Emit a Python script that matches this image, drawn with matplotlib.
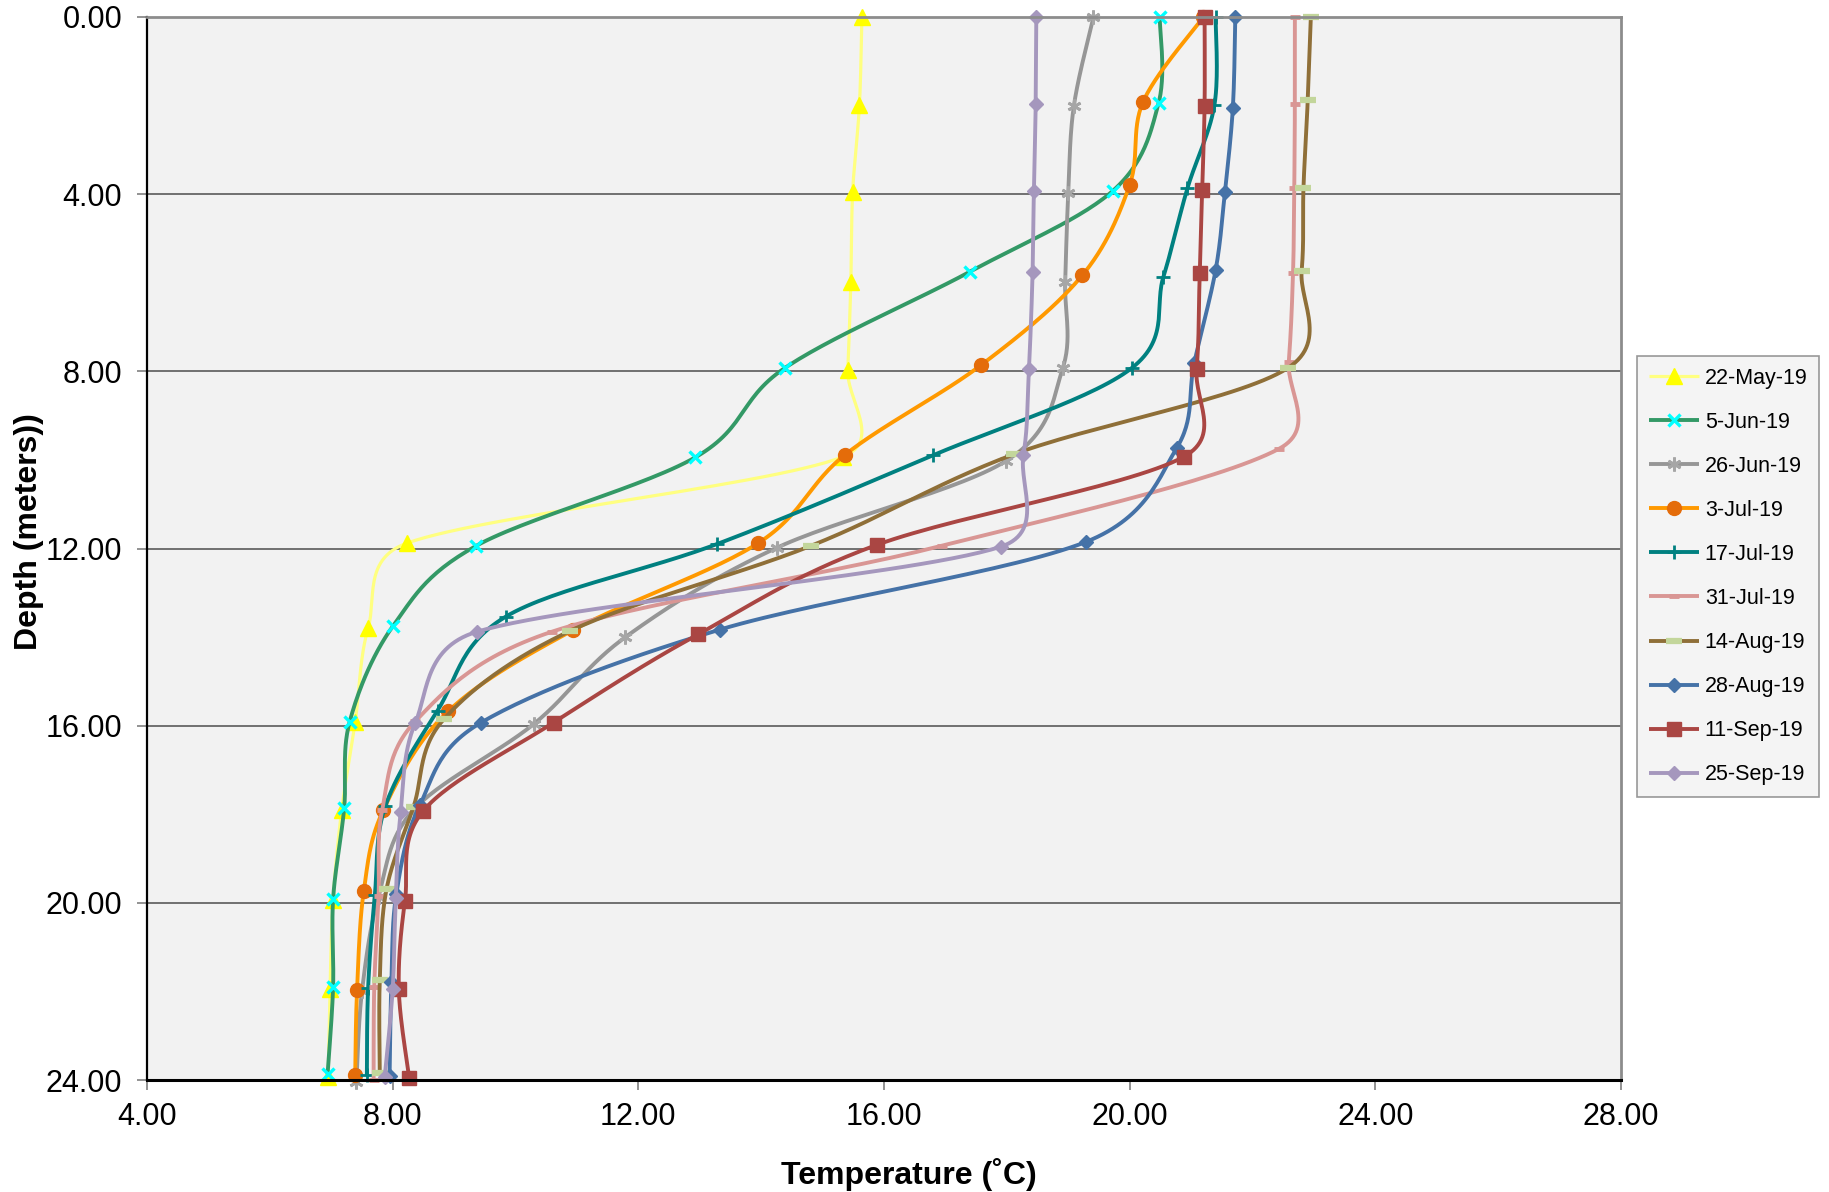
import numpy as np
import matplotlib
matplotlib.use("Agg")
import matplotlib.pyplot as plt

plt.rcParams['font.family'] = ['Liberation Sans', 'DejaVu Sans']

# dates of the profiles
labels = ['22-May-19', '5-Jun-19', '26-Jun-19', '3-Jul-19', '17-Jul-19',
          '31-Jul-19', '14-Aug-19', '28-Aug-19', '11-Sep-19', '25-Sep-19']

# depth (m) and temperature (C) per profile
d_may22 = [0, 1.99, 3.94, 5.98, 7.97, 9.93, 11.88, 13.80, 15.91, 17.90, 19.94, 21.95, 23.93]
t_may22 = [15.64, 15.60, 15.49, 15.46, 15.41, 15.33, 8.23, 7.60, 7.39, 7.17, 7.03, 6.98, 6.95]

d_jun05 = [0, 1.95, 3.92, 5.75, 7.93, 9.94, 11.94, 13.74, 15.91, 17.87, 19.92, 21.90, 23.87]
t_jun05 = [20.49, 20.47, 19.73, 17.40, 14.38, 12.93, 9.36, 8.01, 7.30, 7.21, 7.03, 7.03, 6.94]

d_jun26 = [0, 2.02, 3.98, 5.98, 7.93, 10.02, 11.98, 14.00, 15.96, 17.90, 19.86, 22.00, 24.04]
t_jun26 = [19.41, 19.09, 19.00, 18.95, 18.91, 17.99, 14.26, 11.79, 10.30, 8.34, 7.77, 7.50, 7.41]

d_jul03 = [0, 1.91, 3.79, 5.83, 7.86, 9.89, 11.88, 13.84, 15.68, 17.90, 19.73, 21.97, 23.89]
t_jul03 = [21.20, 20.22, 20.00, 19.23, 17.58, 15.36, 13.95, 10.94, 8.90, 7.85, 7.53, 7.42, 7.39]

d_jul17 = [0, 1.99, 3.87, 5.86, 7.93, 9.90, 11.90, 13.54, 15.66, 17.82, 19.82, 21.93, 23.89]
t_jul17 = [21.40, 21.38, 20.94, 20.55, 20.03, 16.79, 13.28, 9.84, 8.73, 7.88, 7.71, 7.60, 7.58]

d_jul31 = [0, 1.96, 3.87, 5.77, 7.78, 9.75, 11.94, 13.88, 15.90, 17.90, 19.85, 21.90, 24.00]
t_jul31 = [22.69, 22.69, 22.68, 22.66, 22.59, 22.43, 16.94, 10.59, 8.37, 7.83, 7.77, 7.70, 7.69]

d_aug14 = [0, 1.87, 3.85, 5.73, 7.93, 9.87, 11.94, 13.86, 15.86, 17.83, 19.69, 21.74, 23.84]
t_aug14 = [22.95, 22.90, 22.83, 22.80, 22.57, 18.12, 14.81, 10.89, 8.83, 8.34, 7.90, 7.79, 7.79]

d_aug28 = [0, 2.05, 3.96, 5.71, 7.82, 9.72, 11.85, 13.83, 15.93, 17.80, 19.80, 21.78, 23.90]
t_aug28 = [21.72, 21.68, 21.55, 21.40, 21.05, 20.77, 19.29, 13.33, 9.44, 8.44, 8.06, 7.98, 7.95]

d_sep11 = [0, 2.00, 3.91, 5.77, 7.95, 9.93, 11.92, 13.94, 15.93, 17.92, 19.96, 21.95, 23.96]
t_sep11 = [21.22, 21.22, 21.18, 21.14, 21.09, 20.88, 15.88, 12.97, 10.62, 8.50, 8.20, 8.10, 8.27]

d_sep25 = [0, 1.97, 3.93, 5.75, 7.95, 9.89, 11.96, 13.88, 15.93, 17.94, 19.90, 21.95, 23.94]
t_sep25 = [18.48, 18.47, 18.44, 18.42, 18.36, 18.27, 17.90, 9.37, 8.37, 8.13, 8.05, 8.00, 7.87]

depths = [d_may22, d_jun05, d_jun26, d_jul03, d_jul17, d_jul31, d_aug14, d_aug28, d_sep11, d_sep25]
temps = [t_may22, t_jun05, t_jun26, t_jul03, t_jul17, t_jul31, t_aug14, t_aug28, t_sep11, t_sep25]

# line colour, marker, marker colour, marker size, marker edge width, line width
styles = [
    ('#ffff80', '^', '#ffff00', 11, 1, 2.3),
    ('#339966', 'x', '#00ffff', 9, 2.4, 2.8),
    ('#969696', (6, 2, 0), '#a6a6a6', 10, 2, 2.8),
    ('#ff9900', 'o', '#e46c0a', 10, 1, 2.8),
    ('#008080', '+', '#008080', 10, 2, 2.8),
    ('#d99694', '_', '#d99694', 7, 3.5, 2.8),
    ('#8f6f38', '_', '#c3d69b', 11, 4.5, 2.8),
    ('#4572a7', 'D', '#4572a7', 7.5, 1, 2.8),
    ('#aa4643', 's', '#aa4643', 10.5, 1, 2.8),
    ('#a597bd', 'D', '#a597bd', 7.5, 1, 2.8),
]

NSEG = 30


def smooth(px):
    # excel-like smoothed line: bezier segments, tangents capped at half the segment
    p = np.asarray(px, float)
    pe = np.vstack([p[0], p, p[-1]])
    t = np.linspace(0, 1, NSEG + 1)[:-1, None]
    out = []
    for i in range(len(p) - 1):
        p0, p1, p2, p3 = pe[i], pe[i + 1], pe[i + 2], pe[i + 3]
        seg = np.hypot(*(p2 - p1))
        v1 = (p2 - p0) / 6
        v2 = (p3 - p1) / 6
        for v in (v1, v2):
            n = np.hypot(*v)
            if n > seg / 2 and n > 0:
                v *= (seg / 2) / n
        b1 = p1 + v1
        b2 = p2 - v2
        out.append((1 - t) ** 3 * p1 + 3 * (1 - t) ** 2 * t * b1
                   + 3 * (1 - t) * t ** 2 * b2 + t ** 3 * p2)
    out.append(p[-1:])
    return np.vstack(out)


fig = plt.figure(figsize=(18.29, 11.92), dpi=100)
ax = fig.add_axes([147 / 1829, 1 - 1080 / 1192, 1474 / 1829, 1063 / 1192])
ax.set_facecolor('#f2f2f2')
ax.set_xlim(4, 28)
ax.set_ylim(24, 0)

tr = ax.transData
for lab, d, t, st in zip(labels, depths, temps, styles):
    lc, mk, mc, ms, mew, lw = st
    pix = tr.transform(np.column_stack([t, d]))
    sm = tr.inverted().transform(smooth(pix))
    ax.plot(sm[:, 0], sm[:, 1], color=lc, lw=lw, marker=mk,
            markevery=[i * NSEG for i in range(len(d))],
            markersize=ms, markerfacecolor=mc, markeredgecolor=mc, markeredgewidth=mew,
            label=lab, clip_on=False, solid_capstyle='butt')

ax.set_xticks(np.arange(4, 28.1, 4))
ax.set_yticks(np.arange(0, 24.1, 4))
ax.xaxis.set_major_formatter(matplotlib.ticker.FormatStrFormatter('%.2f'))
ax.yaxis.set_major_formatter(matplotlib.ticker.FormatStrFormatter('%.2f'))
ax.tick_params(axis='both', labelsize=22, length=7, width=1.2, color='#808080', direction='out')
ax.tick_params(axis='y', pad=11)
ax.tick_params(axis='x', pad=9)

ax.yaxis.grid(True, color='#666666', lw=1.3)
ax.set_axisbelow(True)
for s in ['top', 'right']:
    ax.spines[s].set_color('#8c8c8c')
    ax.spines[s].set_linewidth(2)
ax.spines['left'].set_color('black')
ax.spines['left'].set_linewidth(1.6)
ax.spines['bottom'].set_color('black')
ax.spines['bottom'].set_linewidth(2.2)

ax.set_xlabel('Temperature (˚C)', fontsize=23, fontweight='bold', va='top')
ax.xaxis.set_label_coords(0.517, -0.073)
ax.set_ylabel('Depth (meters))', fontsize=23, fontweight='bold')
ax.yaxis.set_label_coords(-0.07, 0.516)

leg = fig.legend(loc='upper left', bbox_to_anchor=(1637 / 1829, 1 - 356 / 1192),
                 fontsize=15.5, frameon=True, fancybox=False, facecolor='#f2f2f2',
                 edgecolor='#808080', handlelength=2.35, labelspacing=1.07,
                 borderpad=0.55, handletextpad=0.25, borderaxespad=0)
leg.get_frame().set_linewidth(1.2)

fig.savefig('out.png', dpi=100)
